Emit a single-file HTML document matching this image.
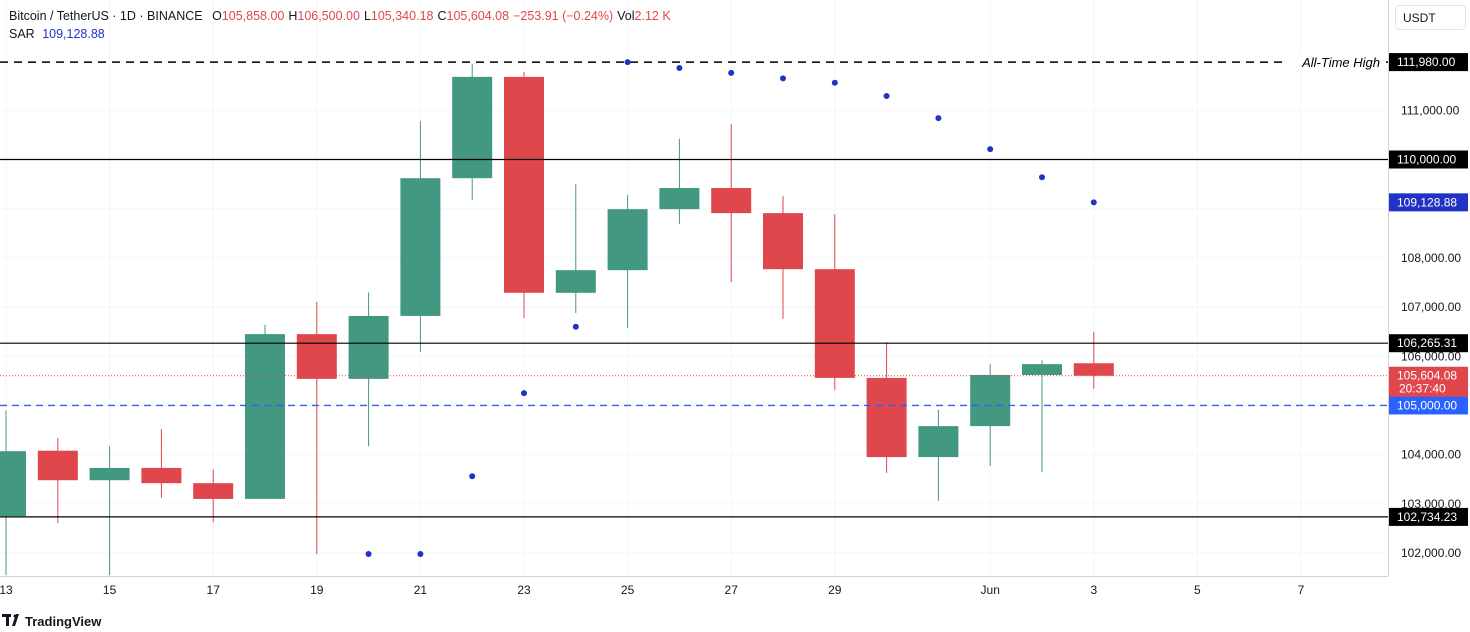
<!DOCTYPE html>
<html><head><meta charset="utf-8">
<style>
body{margin:0;background:#fff;font-family:"Liberation Sans",sans-serif;}
#wrap{position:relative;width:1470px;height:632px;overflow:hidden;}
</style></head>
<body>
<div id="wrap">
<svg id="chart" width="1470" height="632"></svg>
</div>
<script>
const days=[13,14,15,16,17,18,19,20,21,22,23,24,25,26,27,28,29,30,31,32,33,34];
const opens=[102750,104080,103480,103730,103420,103100,106450,105540,106820,109620,111680,107290,107750,108990,109420,108910,107770,105560,103950,104580,105620,105858];
const highs=[104900,104340,104170,104520,103700,106640,107100,107300,110780,111950,111780,109500,109280,110420,110720,109260,108890,106290,104910,105840,105920,106500];
const lows=[101550,102610,101550,103120,102630,103100,101980,104170,106090,109180,106780,106880,106570,108690,107510,106760,105320,103630,103060,103770,103650,105340];
const closes=[104070,103480,103730,103420,103100,106450,105540,106820,109620,111680,107290,107750,108990,109420,108910,107770,105560,103950,104580,105620,105840,105604.08];
const sarDays=[20,21,22,23,24,25,26,27,28,29,30,31,32,33,34];
const sarVals=[101980,101980,103560,105250,106600,111980,111860,111760,111650,111560,111290,110840,110210,109640,109128.88];
const priceTicks=[102000,103000,104000,105000,106000,107000,108000,110000,111000];
const dateTicks=[[13,"13"],[15,"15"],[17,"17"],[19,"19"],[21,"21"],[23,"23"],[25,"25"],[27,"27"],[29,"29"],[32,"Jun"],[34,"3"],[36,"5"],[38,"7"]];
const hLevels=[[111980,"111,980.00","dash"],[110000,"110,000.00","solid"],[106265.31,"106,265.31","solid"],[102734.23,"102,734.23","solid"]];

const NS="http://www.w3.org/2000/svg";
const svg=document.getElementById('chart');
const y=p=>159.5+(110000-p)*0.04919;
const x=d=>6+(d-13)*51.8;
function el(t,a,parent){const e=document.createElementNS(NS,t);for(const k in a)e.setAttribute(k,a[k]);(parent||svg).appendChild(e);return e;}
function txt(s,a,parent){const e=el('text',a,parent);e.textContent=s;return e;}
const fmt=v=>v.toLocaleString('en-US',{minimumFractionDigits:2,maximumFractionDigits:2});

for(const p of [102000,103000,104000,105000,106000,107000,108000,109000,110000,111000,112000]){
 const g=el('line',{x1:0,x2:1388,y1:y(p),y2:y(p),stroke:'#f3f5fa','stroke-width':1});
 
 
}
for(const [d] of dateTicks){
 const g=el('line',{x1:x(d),x2:x(d),y1:0,y2:576,stroke:'#f3f5fa','stroke-width':1});
 
 
}
el('line',{x1:1388.5,x2:1388.5,y1:0,y2:576,stroke:'#d1d4dc'});
el('line',{x1:0,x2:1388,y1:576.5,y2:576.5,stroke:'#d1d4dc'});

days.forEach((d,i)=>{
 const up=closes[i]>=opens[i];const c=up?'#439882':'#e0474c';
 const g=el('g',{});
 
 
 el('line',{x1:x(d),x2:x(d),y1:y(highs[i]),y2:y(lows[i]),stroke:c,'stroke-width':1},g);
 const t=y(Math.max(opens[i],closes[i])),b=y(Math.min(opens[i],closes[i]));
 el('rect',{x:x(d)-20,y:t,width:40,height:Math.max(1,b-t),fill:c},g);
});

hLevels.forEach(([p,l,s])=>{
 const ln=el('line',{x1:0,x2:1388,y1:y(p),y2:y(p),stroke:'#000','stroke-width':s=='dash'?1.5:1.2,'stroke-dasharray':s=='dash'?'8,6':''});
 
 
});
const bl=el('line',{x1:0,x2:1388,y1:y(105000),y2:y(105000),stroke:'#2962ff','stroke-width':1.3,'stroke-dasharray':'7,5'});


const cur=closes[closes.length-1];
const cl=el('line',{x1:0,x2:1388,y1:y(cur),y2:y(cur),stroke:'#e0474c','stroke-width':1,'stroke-dasharray':'1,2'});



sarDays.forEach((d,i)=>{
 const c=el('circle',{cx:x(d),cy:y(sarVals[i]),r:3,fill:'#2133c4'});
 
 
});

priceTicks.forEach(p=>{
 const t=txt(fmt(p),{x:1401,y:y(p)+4,'font-size':12,fill:'#131722'});
 
 
});
dateTicks.forEach(([d,l])=>{
 const t=txt(l,{x:x(d),y:594,'font-size':12,fill:'#131722','text-anchor':'middle'});
 
 
});
function tag(p,label,bg,name){
 const g=el('g',{});
 
 
 el('rect',{x:1389,y:y(p)-9,width:79,height:18,fill:bg},g);
 txt(label,{x:1397,y:y(p)+4,'font-size':12,fill:'#fff'},g);
}
hLevels.forEach(([p,l])=>tag(p,l,'#000','level-tag-'+Math.round(p)));
tag(105000,'105,000.00','#2962ff','level-tag-105000');
tag(109128.88,'109,128.88','#2133c4','sar-tag');
{const g=el('g',{});
 
 
 el('rect',{x:1389,y:y(cur)-9,width:79,height:30,fill:'#e0474c'},g);
 txt(fmt(cur),{x:1397,y:y(cur)+4,'font-size':12,fill:'#fff'},g);
 txt('20:37:40',{x:1399,y:y(cur)+17,'font-size':12,fill:'#fff'},g);}
el('rect',{x:1286,y:y(111980)-9,width:98,height:18,fill:'#fff'});
const ath=txt('All-Time High',{x:1380,y:y(111980)+5,'font-size':13,'font-style':'italic','text-anchor':'end',fill:'#000'});



const h=el('g',{});


const ht=el('text',{x:9,y:20,'font-size':12.5,fill:'#131722'},h);
ht.innerHTML='Bitcoin / TetherUS · 1D · BINANCE <tspan dx="6">O</tspan><tspan fill="#e0474c">105,858.00</tspan><tspan dx="4">H</tspan><tspan fill="#e0474c">106,500.00</tspan><tspan dx="4">L</tspan><tspan fill="#e0474c">105,340.18</tspan><tspan dx="4">C</tspan><tspan fill="#e0474c">105,604.08</tspan><tspan dx="4" fill="#e0474c">−253.91 (−0.24%)</tspan><tspan dx="4">Vol</tspan><tspan fill="#e0474c">2.12 K</tspan>';
const st=el('text',{x:9,y:38,'font-size':12.5,fill:'#131722'},h);
st.innerHTML='SAR <tspan dx="4" fill="#2133c4">109,128.88</tspan>';
const ub=el('g',{});


el('rect',{x:1395.5,y:5.5,width:70,height:24,rx:4,fill:'#fff',stroke:'#e0e3eb'},ub);
txt('USDT',{x:1403,y:22,'font-size':12,fill:'#131722'},ub);
const lg=el('g',{});


el('path',{d:'M2 614h9v3H9v9H6v-9H2z M12 626l4-12h3l-4 12z',fill:'#131722'},lg);
el('circle',{cx:15,cy:616,r:1.5,fill:'#131722'},lg);
txt('TradingView',{x:25,y:626,'font-size':13,fill:'#131722','font-weight':'bold'},lg);
</script>
</body></html>
